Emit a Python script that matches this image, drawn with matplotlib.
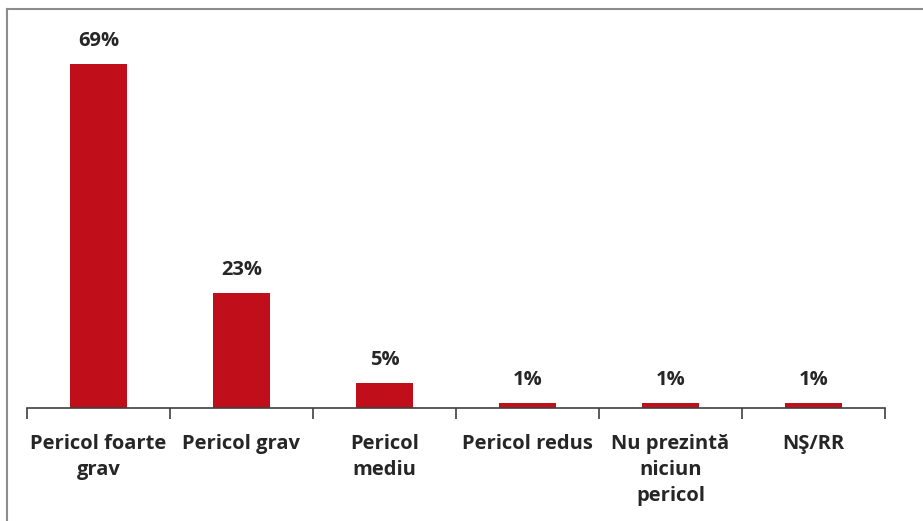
import matplotlib
matplotlib.use("Agg")
import matplotlib.pyplot as plt
import numpy as np

# categories and values
categories = ["Pericol foarte\ngrav", "Pericol grav", "Pericol\nmediu",
              "Pericol redus", "Nu prezintă\nniciun\npericol", "NŞ/RR"]
values = [69, 23, 5, 1, 1, 1]
labels = ["69%", "23%", "5%", "1%", "1%", "1%"]

plt.rcParams['font.family'] = ['Open Sans', 'DejaVu Sans']

W, H = 923, 521
fig = plt.figure(figsize=(W / 100, H / 100), dpi=100)
fig.patch.set_facecolor("white")

# outer frame (cropped on the right and bottom)
fig.add_artist(plt.Line2D([7 / W, 1], [1 - 9 / H, 1 - 9 / H], color="#8c8c8c", lw=1.5))
fig.add_artist(plt.Line2D([7 / W, 7 / W], [0, 1 - 9 / H], color="#8c8c8c", lw=1.5))

left, right = 27 / W, 885 / W
bottom, top = 1 - 408 / H, 1 - 9 / H
ax = fig.add_axes([left, bottom, right - left, top - bottom])

x = np.arange(len(categories))
ax.bar(x, values, width=0.4, color="#C00F1B")
ax.set_xlim(-0.5, len(categories) - 0.5)
ax.set_ylim(0, 80)

for xi, v, lab in zip(x, values, labels):
    ax.annotate(lab, (xi, v), xytext=(0, 13), textcoords="offset points",
                ha="center", va="baseline", fontsize=14.5, fontweight="bold", color="#262626")

for s in ["top", "left", "right"]:
    ax.spines[s].set_visible(False)
ax.spines["bottom"].set_color("#404040")
ax.spines["bottom"].set_linewidth(1.2)
ax.set_yticks([])

ax.set_xticks(x)
ax.set_xticklabels([])
ax.tick_params(axis="x", which="major", length=0)
ax.set_xticks(np.arange(-0.5, len(categories)), minor=True)
ax.tick_params(axis="x", which="minor", length=8, width=1.2, color="#404040", direction="out")

for xi, cat in zip(x, categories):
    ax.annotate(cat, (xi, 0), xytext=(0, -19), textcoords="offset points",
                xycoords=ax.get_xaxis_transform(), ha="center", va="top",
                fontsize=14.5, fontweight="bold", color="#262626", linespacing=1.4)

fig.savefig("out.png", dpi=100)
